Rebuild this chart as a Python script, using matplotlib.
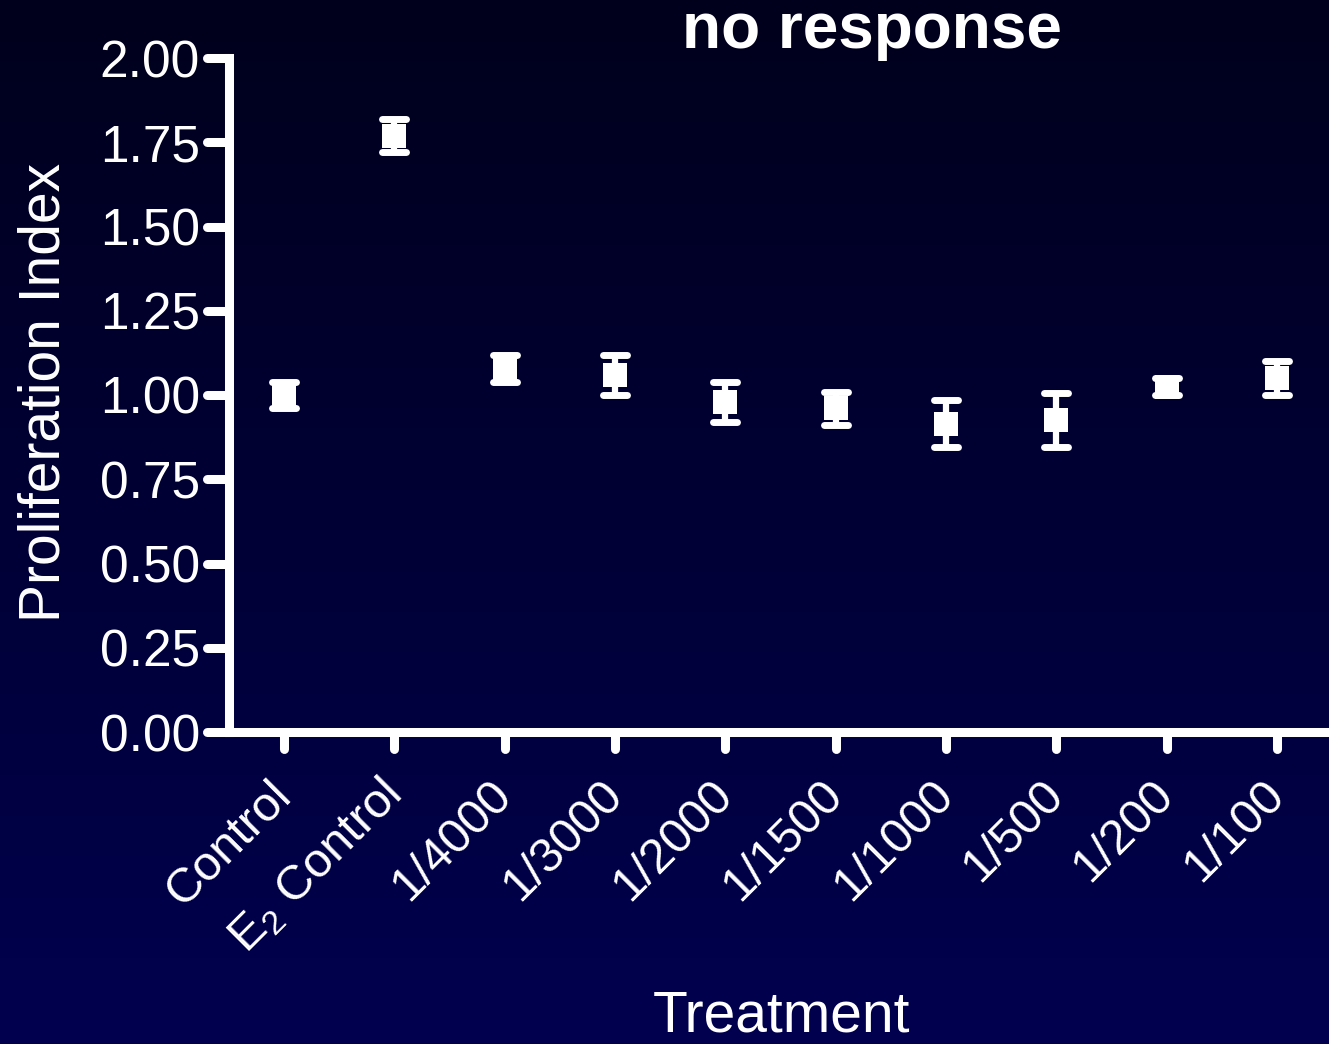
import numpy as np
import matplotlib
matplotlib.use('Agg')
import matplotlib.pyplot as plt
from matplotlib.markers import MarkerStyle

# data
treatments = ['Control', r'E$_\mathregular{2}$ Control', '1/4000', '1/3000', '1/2000',
              '1/1500', '1/1000', '1/500', '1/200', '1/100']
prolif_mean = [1.00, 1.77, 1.08, 1.06, 0.98, 0.96, 0.915, 0.925, 1.025, 1.05]
prolif_err = [0.04, 0.05, 0.04, 0.06, 0.06, 0.05, 0.07, 0.08, 0.025, 0.05]
y_ticks = [0.00, 0.25, 0.50, 0.75, 1.00, 1.25, 1.50, 1.75, 2.00]

plt.rcParams['font.family'] = ['Liberation Sans', 'DejaVu Sans']
plt.rcParams['mathtext.fontset'] = 'custom'
plt.rcParams['mathtext.rm'] = 'Liberation Sans'

W, H = 1329, 1044
fig = plt.figure(figsize=(W / 100, H / 100), dpi=100)

# gradient background (dark top -> navy bottom)
bg = fig.add_axes([0, 0, 1, 1], zorder=-10)
grad = np.linspace(0, 1, 256).reshape(-1, 1)
top_c = np.array([0.0, 0.0, 0.11])
bot_c = np.array([0.0, 0.0, 0.31])
img = top_c + (bot_c - top_c) * grad[:, :, None]
bg.imshow(img, aspect='auto', extent=[0, 1, 0, 1], origin='upper')
bg.set_axis_off()

left, right, bottom, top = 229 / W, 1.0, 1 - 732 / H, 1 - 58 / H
ax = fig.add_axes([left, bottom, right - left, top - bottom])
ax.set_facecolor('none')

x = np.arange(len(treatments))
mean = np.array(prolif_mean)
err = np.array(prolif_err)
ax.errorbar(x, mean, yerr=err, fmt='s', color='white', ms=17.5, mew=0,
            elinewidth=4.5, capsize=0, clip_on=False, zorder=3)
cap_marker = MarkerStyle('_', capstyle='round')
for ends in (mean - err, mean + err):
    ax.plot(x, ends, ls='none', marker=cap_marker, ms=17, mew=5,
            color='white', clip_on=False, zorder=4)

ax.set_xlim(-0.5, 9.47)
ax.set_ylim(0, 2.0)
ax.set_yticks(y_ticks)
ax.set_yticklabels([f'{v:.2f}' for v in y_ticks])
ax.set_xticks(x)
ax.set_xticklabels(treatments, rotation=45, ha='right', va='center',
                   rotation_mode='anchor')

for s in ['top', 'right']:
    ax.spines[s].set_visible(False)
for s in ['left', 'bottom']:
    ax.spines[s].set_color('white')
    ax.spines[s].set_linewidth(6.5)
    ax.spines[s].set_capstyle('projecting')

ax.tick_params(axis='y', colors='white', labelsize=37, length=16, width=6.5, pad=5)
ax.tick_params(axis='x', colors='white', labelsize=35, length=12.5, width=6.5, pad=28)
for t in ax.xaxis.get_ticklines() + ax.yaxis.get_ticklines():
    t.set_marker(MarkerStyle(t.get_marker(), capstyle='round'))

fig.text(18 / W, 1 - 392 / H, 'Proliferation Index', rotation=90, ha='left',
         va='center', color='white', fontsize=41)
fig.text(872 / W, 1 - 48 / H, 'no response', ha='center', va='baseline',
         color='white', fontsize=46, fontweight='bold')
fig.text(781 / W, 0.0, 'Treatment', ha='center', va='bottom',
         color='white', fontsize=41)

fig.savefig('out.png', dpi=100)
